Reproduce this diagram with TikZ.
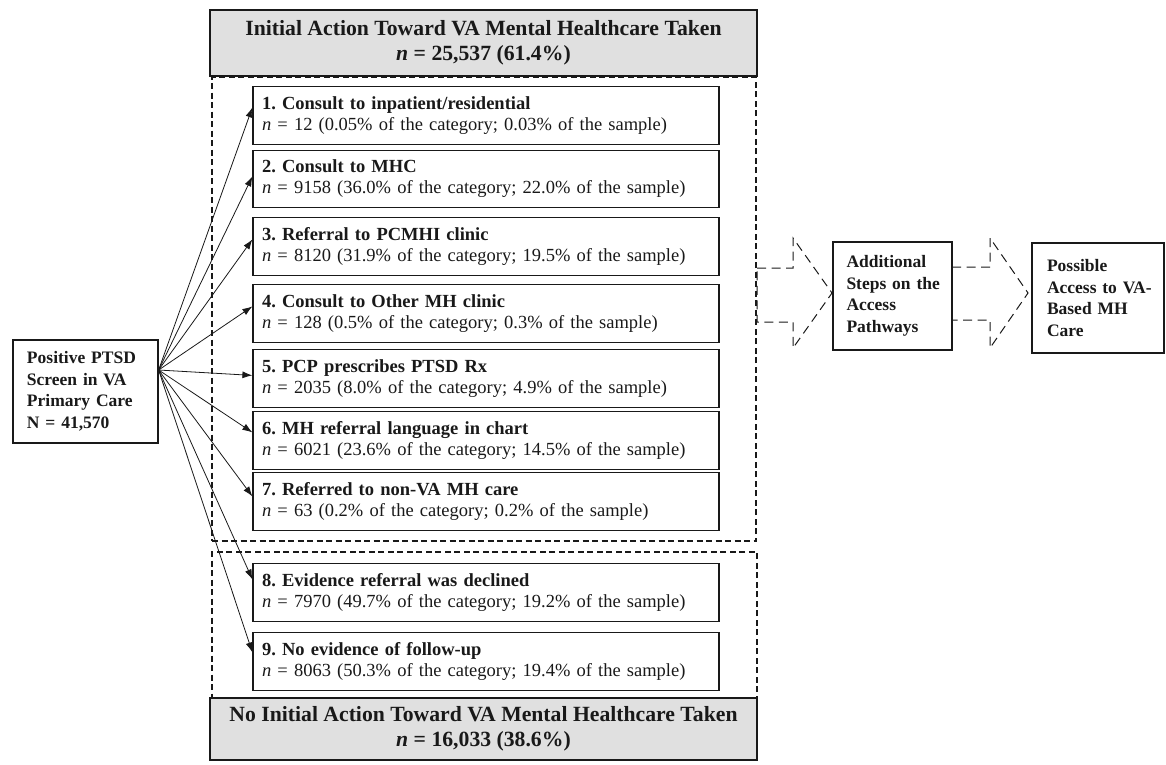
\documentclass[tikz,border=0pt]{standalone}
\usepackage{fontspec}
\setmainfont{Liberation Serif}
\usetikzlibrary{arrows.meta,calc}
\definecolor{hdrgray}{RGB}{224,224,224}
\definecolor{ink}{RGB}{25,25,25}
\frenchspacing
\begin{document}
\begin{tikzpicture}[x=1pt,y=-1pt,
  catbox/.style={draw=ink,line width=1.2pt,minimum width=466pt,minimum height=57.5pt,
    text width=448pt,inner xsep=9pt,inner ysep=0pt,align=left,
    font=\frenchspacing\fontsize{18.5}{21}\selectfont,text=ink},
  hdr/.style={draw=ink,fill=hdrgray,line width=1.2pt,minimum width=547pt,
    inner sep=0pt,align=center,font=\bfseries\fontsize{21.7}{25}\selectfont,text=ink},
  sidebox/.style={draw=ink,line width=1.2pt,inner ysep=0pt,align=left,
    font=\bfseries\fontsize{17.5}{21.5}\selectfont,text=ink},
  frame/.style={draw=ink,line width=1.6pt,dash pattern=on 6pt off 3.5pt,inner sep=0pt},
  conn/.style={draw=ink,line width=0.8pt,-{Latex[length=10pt,width=7pt]}},
  blockarrow/.style={draw=ink,line width=1pt,dash pattern=on 9pt off 5.5pt}
]
\useasboundingbox (0,0) rectangle (1166,764);

% headers
\node[hdr,minimum height=66pt] (top) at (483.5,43) {Initial Action Toward VA Mental Healthcare Taken\\\textit{n} = 25,537 (61.4\%)};
\node[hdr,minimum height=62pt] (bot) at (483.5,729) {No Initial Action Toward VA Mental Healthcare Taken\\\textit{n} = 16,033 (38.6\%)};

% dashed group frames
\node[frame,minimum width=544pt,minimum height=464pt] (grp1) at (484,309) {};
\node[frame,minimum width=545pt,minimum height=146pt] (grp2) at (484.5,625) {};

% category boxes
\node[catbox] (b1) at (486,115.5) {\textbf{1. Consult to inpatient/residential}\\\textit{n} = 12 (0.05\% of the category; 0.03\% of the sample)};
\node[catbox] (b2) at (486,179) {\textbf{2. Consult to MHC}\\\textit{n} = 9158 (36.0\% of the category; 22.0\% of the sample)};
\node[catbox] (b3) at (486,246.5) {\textbf{3. Referral to PCMHI clinic}\\\textit{n} = 8120 (31.9\% of the category; 19.5\% of the sample)};
\node[catbox] (b4) at (486,313.5) {\textbf{4. Consult to Other MH clinic}\\\textit{n} = 128 (0.5\% of the category; 0.3\% of the sample)};
\node[catbox] (b5) at (486,378.5) {\textbf{5. PCP prescribes PTSD Rx}\\\textit{n} = 2035 (8.0\% of the category; 4.9\% of the sample)};
\node[catbox] (b6) at (486,440.5) {\textbf{6. MH referral language in chart}\\\textit{n} = 6021 (23.6\% of the category; 14.5\% of the sample)};
\node[catbox] (b7) at (486,501.5) {\textbf{7. Referred to non-VA MH care}\\\textit{n} = 63 (0.2\% of the category; 0.2\% of the sample)};
\node[catbox] (b8) at (486,592.5) {\textbf{8. Evidence referral was declined}\\\textit{n} = 7970 (49.7\% of the category; 19.2\% of the sample)};
\node[catbox] (b9) at (486,661.5) {\textbf{9. No evidence of follow-up}\\\textit{n} = 8063 (50.3\% of the category; 19.4\% of the sample)};

% source box
\node[sidebox,minimum width=145pt,minimum height=103pt,text width=117pt,inner xsep=14pt] (ptsd) at (85.5,391.5)
  {\mbox{Positive PTSD}\\\mbox{Screen in VA}\\\mbox{Primary Care}\\\mbox{N = 41,570}};
\coordinate (src) at ([yshift=21.5pt]ptsd.east);

% right boxes
\node[sidebox,minimum width=119pt,minimum height=108pt,text width=92pt,inner xsep=13.5pt] (steps) at (892.5,296)
  {\mbox{Additional}\\\mbox{Steps on the}\\\mbox{Access}\\\mbox{Pathways}};
\node[sidebox,minimum width=132pt,minimum height=110pt,text width=102pt,inner xsep=15pt] (access) at (1098,298)
  {\mbox{Possible}\\\mbox{Access to VA-}\\\mbox{Based MH}\\\mbox{Care}};

% connectors
\foreach \b/\d in {b1/-21.25,b2/-26.75,b3/-22.25,b4/-22.25,b5/-26.25,b6/-21.25,b7/-24.25,b8/-16.25,b9/-20.25}
  \draw[conn] (src) -- ([yshift=\d pt]\b.north west);

% dashed block arrows
\draw[blockarrow] (757,268) -- (793,268) -- (793,238) -- (832,293) -- (793,348) -- (793,322) -- (757,322) -- cycle;
\draw[blockarrow] (952,267) -- (990,267) -- (990,238) -- (1028,293) -- (990,348) -- (990,320) -- (952,320) -- cycle;
\end{tikzpicture}
\end{document}
